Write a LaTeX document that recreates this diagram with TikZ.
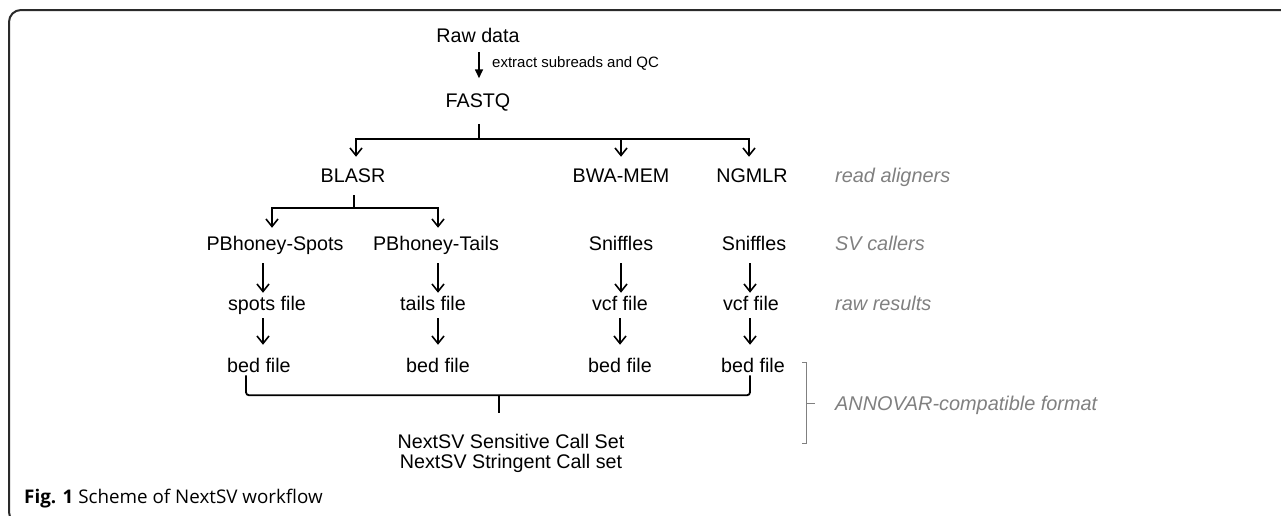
\documentclass[tikz,border=0pt]{standalone}
\usepackage{fontspec}
\setmainfont{Liberation Sans}
\newfontfamily\capfont{Open Sans}
\usetikzlibrary{arrows.meta,calc}
\definecolor{sidegray}{HTML}{808080}
\definecolor{framecol}{HTML}{2A2A2A}
\tikzset{
  txt/.style={font=\fontsize{19.7}{22}\selectfont, inner sep=0pt, text height=14.1pt, text depth=0pt},
  side/.style={font=\fontsize{19.9}{22}\selectfont\itshape, text=sidegray, inner sep=0pt, text height=14.1pt, text depth=0pt, anchor=west},
  tree/.style={line width=1.8pt},
  barb/.style={line width=1.6pt, -{Straight Barb[length=7.5pt,width=12pt,line width=1.6pt]}},
  tri/.style={line width=1.6pt, -{Triangle[length=9pt,width=8pt]}},
}
\begin{document}
\begin{tikzpicture}[x=1pt,y=-1pt]
\useasboundingbox (0,0) rectangle (1281,515);
\begin{scope}
  \clip (0,0) rectangle (1281,515);
  \draw[line width=2pt, framecol, rounded corners=12pt] (1400,10) -- (9,10) -- (9,524) -- (120,524);
\end{scope}

% nodes
\node[txt] (raw) at (478,35) {Raw data};
\node[font=\fontsize{15}{17}\selectfont, anchor=west, inner sep=0pt] (ext) at (492,63) {extract subreads and QC};
\node[txt] (fastq) at (478,100.5) {FASTQ};
\node[txt] (blasr) at (353,175) {BLASR};
\node[txt] (bwa) at (621,175) {BWA-MEM};
\node[txt] (ngmlr) at (752,175) {NGMLR};
\node[txt] (pbs) at (275,243) {PBhoney-Spots};
\node[txt] (pbt) at (436,243) {PBhoney-Tails};
\node[txt] (sn1) at (621,243) {Sniffles};
\node[txt] (sn2) at (754,243) {Sniffles};
\node[txt] (spots) at (267,303) {spots file};
\node[txt] (tails) at (433,303) {tails file};
\node[txt] (vcf1) at (620,303) {vcf file};
\node[txt] (vcf2) at (751,303) {vcf file};
\node[txt, anchor=west] (bed1) at (227,365) {bed file};
\node[txt] (bed2) at (438,365) {bed file};
\node[txt] (bed3) at (620,365) {bed file};
\node[txt] (bed4) at (753,365) {bed file};
\node[font=\fontsize{19.7}{20.5}\selectfont, align=center, inner sep=0pt, anchor=north] (next) at (511,434) {NextSV Sensitive Call Set\\NextSV Stringent Call set};

\node[side] (la) at (835,175) {read aligners};
\node[side] (lb) at (835,243) {SV callers};
\node[side] (lc) at (835,303) {raw results};
\node[side] (ld) at (835,403) {ANNOVAR-compatible format};

\node[anchor=west, inner sep=0pt, font=\capfont\fontsize{18.8}{22}\selectfont] (cap) at (24,499) {\textbf{Fig. 1} Scheme of NextSV workflow};

% connectors
\draw[tri] ($(raw.south)+(1,10)$) -- ($(fastq.north)+(1,-15)$);

\coordinate (j1) at ($(fastq.south)+(1,31)$);
\draw[tree] ($(fastq.south)+(1,16)$) -- (j1);
\draw[tree, barb] (j1) -| ($(blasr.north)+(3,-11)$);
\draw[tree, barb] (j1) -| ($(bwa.north)+(0,-11)$);
\draw[tree, barb] (j1) -| ($(ngmlr.north)+(-3,-11)$);

\coordinate (j2) at ($(blasr.south)+(1,26)$);
\draw[tree] ($(blasr.south)+(1,13)$) -- (j2);
\draw[tree, barb] (j2) -| ($(pbs.north)+(-3,-8)$);
\draw[tree, barb] (j2) -| ($(pbt.north)+(2,-8)$);

\draw[barb] ($(pbs.south-|spots)+(-4,13)$) -- ($(spots.north)+(-4,-3)$);
\draw[barb] ($(pbt.south-|tails)+(5,13)$) -- ($(tails.north)+(5,-3)$);
\draw[barb] ($(sn1.south)+(0,13)$) -- ($(vcf1.north)+(1,-3)$);
\draw[barb] ($(sn2.south)+(-4,13)$) -- ($(vcf2.north)+(-1,-3)$);

\draw[barb] ($(spots.south)+(-4,8)$) -- ($(bed1.north-|spots)+(-4,-13)$);
\draw[barb] ($(tails.south)+(5,8)$) -- ($(bed2.north-|tails)+(5,-13)$);
\draw[barb] ($(vcf1.south)+(0,8)$) -- ($(bed3.north-|vcf1)+(0,-13)$);
\draw[barb] ($(vcf2.south)+(-1,8)$) -- ($(bed4.north-|vcf2)+(-1,-13)$);

\draw[tree, rounded corners=3pt] ($(bed1.south west)+(19,3)$) |- ($(bed4.south)+(-3,23)$) -- ($(bed4.south)+(-3,3)$);
\draw[tree] ($(next.north)+(-12,-39)$) -- ($(next.north)+(-12,-21)$);

% bracket
\draw[sidegray, line width=1pt] ($(ld.west)+(-33,-41)$) -- ($(ld.west)+(-28.5,-41)$) -- ($(ld.west)+(-28.5,40)$) -- ($(ld.west)+(-33,40)$);
\draw[sidegray, line width=1pt] ($(ld.west)+(-28.5,0)$) -- ($(ld.west)+(-20,0)$);
\end{tikzpicture}
\end{document}
